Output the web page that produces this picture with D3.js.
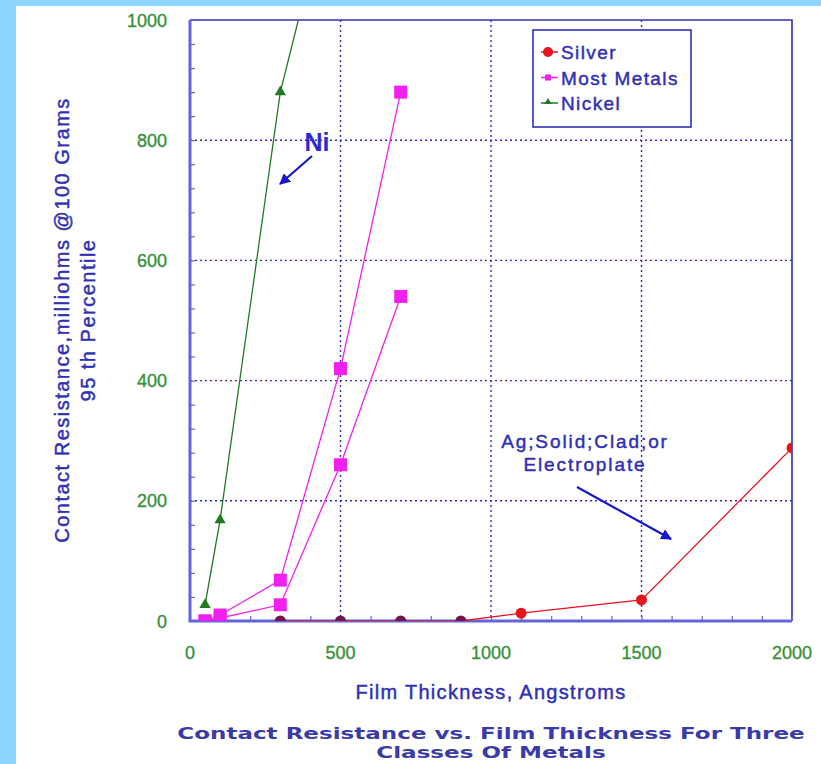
<!DOCTYPE html>
<html>
<head>
<meta charset="utf-8">
<script src="https://cdn.jsdelivr.net/npm/d3@7"></script>
<style>
  html, body { margin: 0; padding: 0; background: #8dd6ff; }
  svg { display: block; }
</style>
</head>
<body>
<svg id="chart" width="821" height="764"></svg>
<script>
// Film thickness (Angstroms) vs contact resistance (milliohms)
const silverX = [300, 500, 700, 900, 1100, 1500, 2000];
const silverY = [0, 0, 0, 0, 13, 35, 288];

const metalsHighX = [50, 100, 300, 500, 700];
const metalsHighY = [0, 10, 68, 420, 880];
const metalsLowX = [50, 100, 300, 500, 700];
const metalsLowY = [0, 5, 27, 260, 540];

const nickelX = [50, 100, 300, 500];
const nickelY = [27, 168, 880, 1280];

const xTicks = [0, 500, 1000, 1500, 2000];
const yTicks = [0, 200, 400, 600, 800, 1000];
const legendNames = ["Silver", "Most Metals", "Nickel"];

const BLUE = "#3030b4";
const AXIS = "#6464d8";
const GREEN_TXT = "#379137";
const RED = "#e8141c";
const MAGENTA = "#f020ee";
const GREEN = "#1f7a22";

const svg = d3.select("#chart");
// white sheet over the light-blue backdrop
svg.append("rect").attr("x", 16).attr("y", 6).attr("width", 805).attr("height", 758).attr("fill", "#ffffff");

const x = d3.scaleLinear().domain([0, 2000]).range([190, 792]);
const y = d3.scaleLinear().domain([0, 1000]).range([621, 20]);

svg.append("clipPath").attr("id", "plotClip")
  .append("rect").attr("x", 190).attr("y", 20).attr("width", 602).attr("height", 601);

// dotted grid
const grid = svg.append("g").attr("stroke", BLUE).attr("stroke-width", 1.4).attr("stroke-dasharray", "2,3");
grid.selectAll("line.v").data(xTicks.filter(d => d > 0 && d < 2000)).join("line")
  .attr("x1", d => x(d)).attr("x2", d => x(d)).attr("y1", y(1000)).attr("y2", y(0));
grid.selectAll("line.h").data(yTicks.filter(d => d > 0 && d < 1000)).join("line")
  .attr("x1", x(0)).attr("x2", x(2000)).attr("y1", d => y(d)).attr("y2", d => y(d));

// frame: top and right borders
svg.append("path").attr("d", `M${x(0)},${y(1000)}H${x(2000)}V${y(0)}`)
  .attr("fill", "none").attr("stroke", BLUE).attr("stroke-width", 1.6);

// axes with inward minor ticks
const yAxis = d3.axisRight(y).tickValues(d3.range(0, 1001, 40)).tickSize(5).tickFormat("");
const yg = svg.append("g").attr("transform", `translate(${x(0)},0)`).call(yAxis);
const xAxis = d3.axisTop(x).tickValues(d3.range(0, 2001, 100)).tickSize(5).tickFormat("");
const xg = svg.append("g").attr("transform", `translate(0,${y(0)})`).call(xAxis);
[yg, xg].forEach(g => {
  g.select(".domain").remove();
  g.selectAll(".tick line").attr("stroke", AXIS).attr("stroke-width", 1.2);
});
svg.append("path").attr("d", `M${x(0)},${y(1000)}V${y(0)}H${x(2000)}`)
  .attr("fill", "none").attr("stroke", AXIS).attr("stroke-width", 3);

// tick labels
const lblFont = "'Liberation Sans', Arial, sans-serif";
svg.append("g").selectAll("text").data(yTicks).join("text")
  .attr("x", 167).attr("y", d => y(d) + 6.5).attr("text-anchor", "end")
  .attr("font-family", lblFont).attr("font-size", 18).attr("fill", GREEN_TXT)
  .attr("stroke", GREEN_TXT).attr("stroke-width", 0.35)
  .text(d => d);
svg.append("g").selectAll("text").data(xTicks).join("text")
  .attr("x", d => x(d)).attr("y", 659).attr("text-anchor", "middle")
  .attr("font-family", lblFont).attr("font-size", 18).attr("fill", GREEN_TXT)
  .attr("stroke", GREEN_TXT).attr("stroke-width", 0.35)
  .text(d => d);

// series
const plot = svg.append("g").attr("clip-path", "url(#plotClip)");
const line = d3.line().x(d => x(d[0])).y(d => y(d[1]));
const zip = (a, b) => a.map((v, i) => [v, b[i]]);

const silver = zip(silverX, silverY);
const metalsHigh = zip(metalsHighX, metalsHighY);
const metalsLow = zip(metalsLowX, metalsLowY);
const nickel = zip(nickelX, nickelY);

plot.append("path").datum(nickel).attr("d", line).attr("fill", "none").attr("stroke", GREEN).attr("stroke-width", 1.3);
plot.append("path").datum(metalsHigh).attr("d", line).attr("fill", "none").attr("stroke", MAGENTA).attr("stroke-width", 1.3);
plot.append("path").datum(metalsLow).attr("d", line).attr("fill", "none").attr("stroke", MAGENTA).attr("stroke-width", 1.3);
plot.append("path").datum(silver).attr("d", line).attr("fill", "none").attr("stroke", RED).attr("stroke-width", 1.3);

const tri = d3.symbol().type(d3.symbolTriangle).size(55);
plot.selectAll("path.ni").data(nickel).join("path").attr("class", "ni")
  .attr("transform", d => `translate(${x(d[0])},${y(d[1])})`).attr("d", tri).attr("fill", GREEN);

const sq = 13;
plot.selectAll("rect.mm").data(metalsHigh.concat(metalsLow)).join("rect").attr("class", "mm")
  .attr("x", d => x(d[0]) - sq / 2).attr("y", d => y(d[1]) - sq / 2)
  .attr("width", sq).attr("height", sq).attr("fill", MAGENTA);

// markers resting on the axis line take on its tint
plot.selectAll("circle.ag").data(silver).join("circle").attr("class", "ag")
  .attr("cx", d => x(d[0])).attr("cy", d => y(d[1])).attr("r", 5.5)
  .attr("fill", d => d[1] === 0 ? "#7a1048" : RED);

// legend
const lg = svg.append("g");
lg.append("rect").attr("x", 533).attr("y", 30).attr("width", 158).attr("height", 97)
  .attr("fill", "#ffffff").attr("stroke", BLUE).attr("stroke-width", 1.6);
const lgItems = lg.selectAll("g").data(legendNames).join("g")
  .attr("transform", (d, i) => `translate(0,${52 + i * 25.5})`);
const lgColors = [RED, MAGENTA, GREEN];
lgItems.append("line").attr("x1", 541).attr("x2", 558).attr("y1", 0).attr("y2", 0)
  .attr("stroke", (d, i) => lgColors[i]).attr("stroke-width", 1.5);
lgItems.each(function (d, i) {
  const g = d3.select(this);
  if (i === 0) g.append("circle").attr("cx", 548).attr("cy", 0).attr("r", 5).attr("fill", RED);
  if (i === 1) g.append("rect").attr("x", 545).attr("y", -3).attr("width", 6).attr("height", 6).attr("fill", MAGENTA);
  if (i === 2) g.append("path").attr("transform", "translate(548,-1)").attr("d", d3.symbol().type(d3.symbolTriangle).size(22)).attr("fill", GREEN);
});
lgItems.append("text").attr("x", 561).attr("y", 7)
  .attr("font-family", lblFont).attr("font-size", 19).attr("letter-spacing", 1.4).attr("fill", BLUE)
  .attr("stroke", BLUE).attr("stroke-width", 0.45)
  .text(d => d);

// annotations
const defs = svg.append("defs");
defs.append("marker").attr("id", "head").attr("viewBox", "0 0 10 10")
  .attr("refX", 9).attr("refY", 5).attr("markerWidth", 5).attr("markerHeight", 5)
  .attr("markerUnits", "strokeWidth").attr("orient", "auto")
  .append("path").attr("d", "M0,0L10,5L0,10Z").attr("fill", "#1818c8");

svg.append("text").attr("x", 317).attr("y", 151).attr("text-anchor", "middle")
  .attr("font-family", lblFont).attr("font-size", 25).attr("font-weight", "bold").attr("fill", "#2a2ad0")
  .text("Ni");
svg.append("line").attr("x1", 312).attr("y1", 156).attr("x2", 280).attr("y2", 184)
  .attr("stroke", "#1818c8").attr("stroke-width", 2.2).attr("marker-end", "url(#head)");

const ag = svg.append("text").attr("text-anchor", "middle")
  .attr("font-family", lblFont).attr("font-size", 19).attr("letter-spacing", 1.9).attr("fill", BLUE)
  .attr("stroke", BLUE).attr("stroke-width", 0.45);
ag.append("tspan").attr("x", 585).attr("y", 448).text("Ag;Solid;Clad;or");
ag.append("tspan").attr("x", 585).attr("y", 471).text("Electroplate");
svg.append("line").attr("x1", 577).attr("y1", 487).attr("x2", 671).attr("y2", 539)
  .attr("stroke", "#1818c8").attr("stroke-width", 2.2).attr("marker-end", "url(#head)");

// axis titles
svg.append("text").attr("x", 491).attr("y", 699).attr("text-anchor", "middle")
  .attr("font-family", lblFont).attr("font-size", 20).attr("letter-spacing", 1.3).attr("fill", BLUE)
  .attr("stroke", BLUE).attr("stroke-width", 0.45)
  .text("Film Thickness, Angstroms");

const yt = svg.append("text").attr("transform", "translate(0,320) rotate(-90)")
  .attr("text-anchor", "middle").attr("font-family", lblFont).attr("font-size", 20)
  .attr("letter-spacing", 1.5).attr("fill", BLUE).attr("stroke", BLUE).attr("stroke-width", 0.45);
yt.append("tspan").attr("x", 0).attr("y", 69).text("Contact Resistance,milliohms @100 Grams");
yt.append("tspan").attr("x", 0).attr("y", 95).text("95 th Percentile");

// chart title, set in a wide bold face
const tt = svg.append("g").attr("transform", "translate(491,0) scale(1.44,1)")
  .append("text").attr("text-anchor", "middle")
  .attr("font-family", "'DejaVu Sans', Verdana, sans-serif").attr("font-size", 16).attr("font-weight", "bold")
  .attr("fill", "#3a3aa8");
tt.append("tspan").attr("x", 0).attr("y", 739).text("Contact Resistance vs. Film Thickness For Three");
tt.append("tspan").attr("x", 0).attr("y", 758).text("Classes Of Metals");
</script>
</body>
</html>
